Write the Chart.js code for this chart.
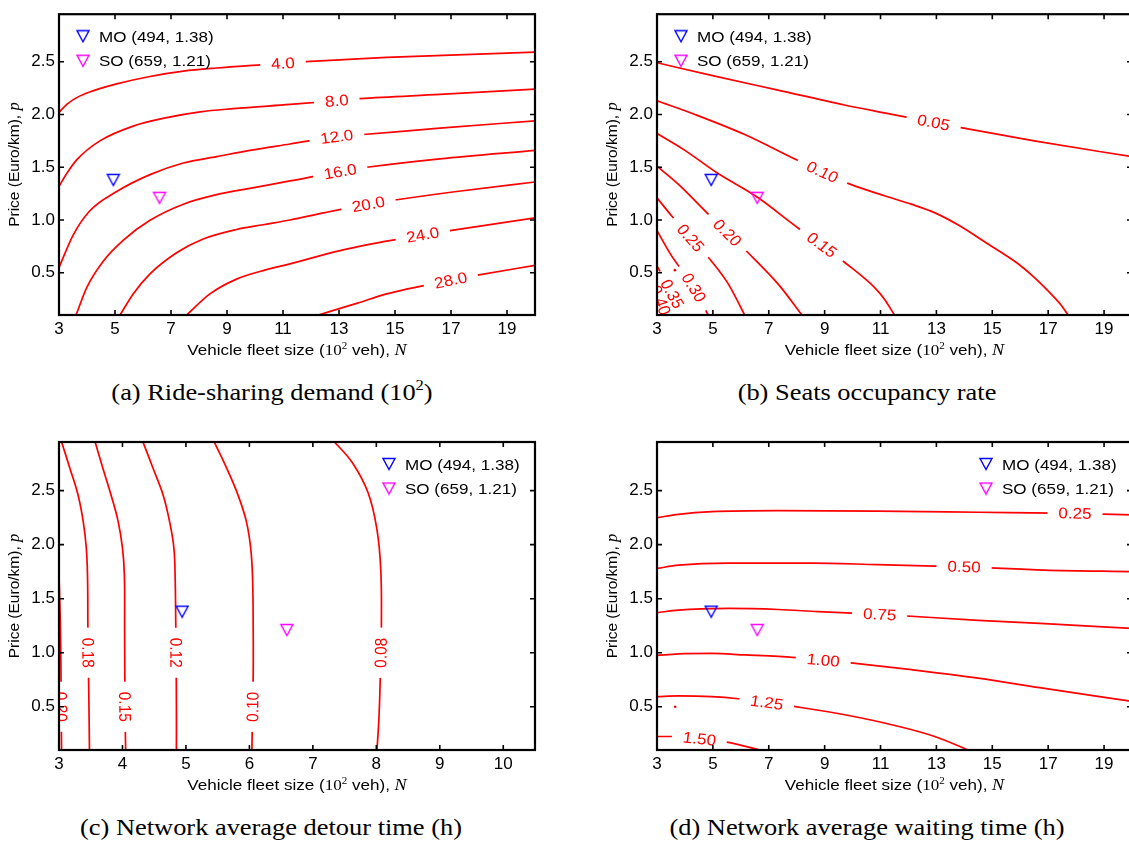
<!DOCTYPE html>
<html>
<head>
<meta charset="utf-8">
<script src="https://cdn.jsdelivr.net/npm/chart.js@4.4.1/dist/chart.umd.min.js"></script>
<style>
  html, body { margin: 0; padding: 0; background: #fff; overflow: hidden; }
  body { width: 1129px; height: 845px; position: relative; }
  canvas { position: absolute; }
  .cap {
    position: absolute; white-space: nowrap; color: #000;
    font-family: "Liberation Serif", "Times New Roman", serif; font-size: 24px;
    transform: translate(-50%, -50%) scaleX(1.1);
  }
  .cap sup { font-size: 15px; vertical-align: 0; position: relative; top: -10px; }
</style>
</head>
<body>
<canvas id="chartDemand" width="560" height="372" style="left:0;top:0"></canvas>
<canvas id="chartOccupancy" width="560" height="372" style="left:580px;top:0"></canvas>
<canvas id="chartDetour" width="560" height="385" style="left:0;top:420px"></canvas>
<canvas id="chartWaiting" width="560" height="385" style="left:580px;top:420px"></canvas>
<div class="cap" style="left:272px;top:392px">(a) Ride-sharing demand (10<sup>2</sup>)</div>
<div class="cap" style="left:867px;top:392px">(b) Seats occupancy rate</div>
<div class="cap" style="left:271px;top:827px">(c) Network average detour time (h)</div>
<div class="cap" style="left:867px;top:827px">(d) Network average waiting time (h)</div>
<script>
// tick values
const xTicksWide = [3, 5, 7, 9, 11, 13, 15, 17, 19];
const xTicksDetour = [3, 4, 5, 6, 7, 8, 9, 10];
const yTicks = [0.5, 1.0, 1.5, 2.0, 2.5];

// optimum points (N in 10^2 veh, price)
const moPoint = [4.94, 1.38];
const soPoint = [6.59, 1.21];
const legendLabels = ["MO (494, 1.38)", "SO (659, 1.21)"];

// (a) ride-sharing demand contours, labelAt = index of the label point
const demandLevels = ["4.0", "8.0", "12.0", "16.0", "20.0", "24.0", "28.0"];
const demandLines = [
  [[3.0, 2.02], [3.3, 2.1], [3.6, 2.155], [3.87, 2.19], [4.4, 2.24], [5.06, 2.29], [6.25, 2.36], [7.44, 2.41], [8.63, 2.44], [10.18, 2.47], [11.0, 2.485], [11.82, 2.5], [14.7, 2.54], [20.0, 2.59]],
  [[3.0, 1.32], [3.3, 1.45], [3.63, 1.57], [4.46, 1.75], [5.65, 1.89], [6.85, 1.97], [8.04, 2.025], [9.23, 2.055], [11.25, 2.095], [12.92, 2.13], [13.75, 2.15], [16.6, 2.19], [20.0, 2.24]],
  [[3.0, 0.55], [3.51, 0.86], [4.11, 1.09], [5.06, 1.27], [6.25, 1.43], [7.44, 1.54], [8.63, 1.6], [9.82, 1.66], [11.25, 1.72], [12.92, 1.79], [13.87, 1.81], [16.6, 1.87], [20.0, 1.94]],
  [[3.61, 0.1], [3.99, 0.36], [4.58, 0.61], [5.3, 0.81], [6.25, 0.997], [7.44, 1.15], [8.63, 1.24], [9.82, 1.3], [11.25, 1.37], [13.04, 1.46], [14.0, 1.5], [16.6, 1.58], [20.0, 1.66]],
  [[5.18, 0.1], [5.65, 0.3], [6.25, 0.49], [7.2, 0.69], [8.15, 0.82], [9.34, 0.91], [10.29, 0.955], [11.25, 1.0], [12.5, 1.07], [14.05, 1.15], [14.76, 1.18], [17.2, 1.27], [20.0, 1.36]],
  [[7.56, 0.1], [8.39, 0.3], [9.34, 0.44], [10.41, 0.53], [11.25, 0.585], [13.04, 0.71], [14.7, 0.8], [15.99, 0.86], [16.96, 0.9], [20.0, 1.02]],
  [[12.26, 0.1], [13.63, 0.21], [14.7, 0.3], [16.99, 0.43], [18.0, 0.48], [20.0, 0.57]]
];
const demandLabelAt = [10, 9, 9, 9, 9, 7, 3];

// (b) seats occupancy rate contours
const occupancyLevels = ["0.05", "0.10", "0.15", "0.20", "0.25", "0.30", "0.35", "0.40"];
const occupancyLines = [
  [[3.0, 2.49], [4.95, 2.37], [7.33, 2.23], [9.71, 2.09], [11.14, 2.015], [11.92, 1.975], [12.9, 1.925], [13.88, 1.875], [16.5, 1.75], [20.0, 1.6]],
  [[3.0, 2.13], [4.36, 2.0], [6.14, 1.81], [7.99, 1.57], [8.92, 1.455], [9.86, 1.345], [11.14, 1.23], [12.1, 1.15], [12.93, 1.07], [13.8, 0.95], [14.71, 0.796], [15.9, 0.59], [16.5, 0.457], [17.1, 0.3], [17.46, 0.195], [17.71, 0.1]],
  [[3.0, 1.82], [4.0, 1.66], [5.13, 1.45], [6.57, 1.22], [8.07, 0.92], [8.9, 0.765], [9.71, 0.6], [10.79, 0.36], [11.14, 0.25], [11.5, 0.1]],
  [[3.0, 1.51], [3.76, 1.34], [4.78, 1.07], [5.52, 0.88], [6.26, 0.69], [7.33, 0.395], [8.19, 0.1]],
  [[3.0, 1.21], [3.52, 1.04], [4.2, 0.83], [4.95, 0.61], [5.55, 0.395], [6.14, 0.1]],
  [[3.0, 0.9], [3.5, 0.67], [4.32, 0.36], [4.83, 0.1]],
  [[3.0, 0.565], [3.55, 0.3], [3.96, 0.1]],
  [[2.92, 0.38], [3.12, 0.24], [3.35, 0.09]]
];
const occupancyLabelAt = [6, 4, 5, 3, 2, 2, 1, 1];
const occupancySpeck = [[3.64, 0.525]];

// (c) network average detour time contours
const detourLevels = ["0.20", "0.18", "0.15", "0.12", "0.10", "0.08"];
const detourLines = [
  [[3.0, 1.72], [3.02, 1.3], [3.03, 0.9], [3.035, 0.5], [3.04, 0.1]],
  [[3.03, 2.97], [3.17, 2.71], [3.3, 2.46], [3.38, 2.22], [3.43, 1.97], [3.45, 1.69], [3.455, 1.26], [3.46, 1.0], [3.47, 0.6], [3.48, 0.1]],
  [[3.56, 2.97], [3.69, 2.71], [3.82, 2.46], [3.93, 2.22], [4.0, 1.97], [4.03, 1.72], [4.034, 1.2], [4.04, 0.5], [4.05, 0.1]],
  [[4.31, 2.97], [4.48, 2.71], [4.64, 2.46], [4.74, 2.22], [4.81, 1.97], [4.83, 1.69], [4.84, 1.26], [4.845, 1.0], [4.85, 0.5], [4.85, 0.1]],
  [[5.43, 2.97], [5.64, 2.71], [5.82, 2.46], [5.95, 2.22], [6.02, 1.97], [6.05, 1.69], [6.06, 1.2], [6.06, 0.8], [6.05, 0.5], [6.04, 0.1]],
  [[7.31, 2.97], [7.62, 2.76], [7.87, 2.48], [8.01, 2.14], [8.07, 1.77], [8.08, 1.27], [8.07, 1.0], [8.06, 0.72], [8.04, 0.38], [8.01, 0.1]]
];
const detourLabelAt = [3, 7, 7, 7, 8, 6];

// (d) network average waiting time contours
const waitingLevels = ["0.25", "0.50", "0.75", "1.00", "1.25", "1.50"];
const waitingLines = [
  [[3.0, 2.25], [3.77, 2.28], [4.96, 2.305], [7.34, 2.315], [10.9, 2.31], [14.49, 2.3], [17.96, 2.29], [20.0, 2.275]],
  [[3.0, 1.78], [3.77, 1.81], [5.56, 1.83], [8.53, 1.83], [10.9, 1.815], [13.99, 1.795], [16.87, 1.765], [20.0, 1.75]],
  [[3.0, 1.37], [3.77, 1.395], [5.56, 1.41], [7.34, 1.4], [8.77, 1.38], [10.97, 1.355], [14.49, 1.3], [16.87, 1.27], [20.0, 1.225]],
  [[3.0, 0.975], [3.77, 0.99], [4.96, 0.994], [6.15, 0.98], [7.34, 0.966], [8.95, 0.932], [9.94, 0.907], [12.11, 0.843], [14.49, 0.765], [16.87, 0.67], [20.0, 0.55]],
  [[3.0, 0.593], [3.77, 0.6], [4.96, 0.593], [5.91, 0.574], [6.93, 0.54], [7.91, 0.503], [9.72, 0.426], [11.51, 0.327], [12.94, 0.225], [14.13, 0.1], [14.3, 0.08]],
  [[3.0, 0.225], [3.54, 0.225], [4.52, 0.205], [5.5, 0.173], [6.69, 0.1], [6.85, 0.09]]
];
const waitingLabelAt = [6, 5, 5, 5, 4, 2];
const waitingSpeck = [[3.65, 0.5]];

const RED = "#ff0000";
const SANS = "'Liberation Sans', Arial, Helvetica, sans-serif";
const SERIF = "'Liberation Serif', 'Times New Roman', serif";
const STRETCH = 1.1; // the figure's text runs a bit wide

function triangleMarker(color) {
  const c = document.createElement("canvas");
  c.width = 16;
  c.height = 14;
  const g = c.getContext("2d");
  g.strokeStyle = color;
  g.lineWidth = 1.4;
  g.beginPath();
  g.moveTo(2, 1.5);
  g.lineTo(14, 1.5);
  g.lineTo(8, 12.5);
  g.closePath();
  g.stroke();
  return c;
}
const markerMO = triangleMarker("#0000ff");
const markerSO = triangleMarker("#ff00ff");

function drawRich(ctx, parts, cx, cy) {
  let total = 0;
  parts.forEach(p => { ctx.font = p.f; total += ctx.measureText(p.t).width; });
  ctx.save();
  ctx.translate(cx, cy);
  if (parts.stretch) ctx.scale(STRETCH, 1);
  ctx.textAlign = "left";
  ctx.textBaseline = "alphabetic";
  ctx.fillStyle = "#000";
  let x = -total / 2;
  parts.forEach(p => {
    ctx.font = p.f;
    ctx.fillText(p.t, x, 5 + (p.dy || 0));
    x += ctx.measureText(p.t).width;
  });
  ctx.restore();
}

const xTitle = [
  { t: "Vehicle fleet size (", f: "15.5px " + SANS },
  { t: "10", f: "15.5px " + SERIF },
  { t: "2", f: "10px " + SERIF, dy: -6 },
  { t: " veh), ", f: "15.5px " + SANS },
  { t: "N", f: "italic 16.5px " + SERIF }
];
xTitle.stretch = true;
const yTitle = [
  { t: "Price (Euro/km), ", f: "15.5px " + SANS },
  { t: "p", f: "italic 16.5px " + SERIF }
];

function overlayPlugin(panel) {
  return {
    id: "overlay",
    afterDatasetsDraw(chart) {
      const { ctx, chartArea: ca } = chart;
      const xs = chart.scales.x, ys = chart.scales.y;
      ctx.save();
      ctx.beginPath();
      ctx.rect(ca.left, ca.top, ca.right - ca.left, ca.bottom - ca.top);
      ctx.clip();
      ctx.font = "15.5px " + SANS;
      panel.lines.forEach((pts, i) => {
        const k = panel.labelAt[i];
        const a = pts[k - 1], p = pts[k], b = pts[k + 1];
        const dx = (xs.getPixelForValue(b[0]) - xs.getPixelForValue(a[0])) / STRETCH;
        const dy = ys.getPixelForValue(b[1]) - ys.getPixelForValue(a[1]);
        let ang = Math.atan2(dy, dx);
        if (ang > Math.PI / 2) ang -= Math.PI;
        if (ang <= -Math.PI / 2) ang += Math.PI;
        const txt = panel.levels[i];
        const w = ctx.measureText(txt).width;
        ctx.save();
        ctx.translate(xs.getPixelForValue(p[0]), ys.getPixelForValue(p[1]));
        ctx.scale(STRETCH, 1);
        ctx.rotate(ang);
        ctx.fillStyle = "#fff";
        ctx.fillRect(-w / 2 - 10, -4, w + 20, 8);
        ctx.fillStyle = RED;
        ctx.textAlign = "center";
        ctx.textBaseline = "middle";
        ctx.fillText(txt, 0, 1);
        ctx.restore();
      });
      ctx.restore();
    },
    afterDraw(chart) {
      const { ctx, chartArea: ca } = chart;
      const xs = chart.scales.x, ys = chart.scales.y;
      ctx.save();
      // inward ticks on all four sides
      ctx.strokeStyle = "#000";
      ctx.lineWidth = 1.6;
      ctx.beginPath();
      panel.xTicks.forEach(v => {
        const px = xs.getPixelForValue(v);
        ctx.moveTo(px, ca.bottom);
        ctx.lineTo(px, ca.bottom - 5);
        ctx.moveTo(px, ca.top);
        ctx.lineTo(px, ca.top + 5);
      });
      yTicks.forEach(v => {
        const py = ys.getPixelForValue(v);
        ctx.moveTo(ca.left, py);
        ctx.lineTo(ca.left + 5, py);
        ctx.moveTo(ca.right, py);
        ctx.lineTo(ca.right - 5, py);
      });
      ctx.stroke();
      ctx.lineWidth = 2.2;
      ctx.strokeRect(ca.left, ca.top, ca.right - ca.left, ca.bottom - ca.top);

      // legend
      const mx = panel.legendRight ? ca.right - 146 : ca.left + 24;
      [markerMO, markerSO].forEach((m, i) => {
        const my = ca.top + 22 + i * 24.5;
        ctx.drawImage(m, mx - 8, my - 7);
        ctx.save();
        ctx.translate(mx + 16, my + 5.6);
        ctx.scale(STRETCH, 1);
        ctx.font = "15.5px " + SANS;
        ctx.fillStyle = "#000";
        ctx.textAlign = "left";
        ctx.fillText(legendLabels[i], 0, 0);
        ctx.restore();
      });

      // axis titles
      drawRich(ctx, xTitle, (ca.left + ca.right) / 2, ca.bottom + 35);
      ctx.save();
      ctx.translate(ca.left - 45, (ca.top + ca.bottom) / 2);
      ctx.rotate(-Math.PI / 2);
      drawRich(ctx, yTitle, 0, 0);
      ctx.restore();
      ctx.restore();
    }
  };
}

function makeChart(id, area, panel) {
  const canvas = document.getElementById(id);
  const W = canvas.width, H = canvas.height;
  const datasets = [
    { data: [{ x: moPoint[0], y: moPoint[1] }], pointStyle: markerMO, pointRadius: 7 },
    { data: [{ x: soPoint[0], y: soPoint[1] }], pointStyle: markerSO, pointRadius: 7 }
  ];
  panel.lines.forEach(pts => {
    datasets.push({
      data: pts.map(p => ({ x: p[0], y: p[1] })),
      showLine: true,
      borderColor: RED,
      borderWidth: 1.7,
      pointRadius: 0,
      tension: 0.4,
      cubicInterpolationMode: panel.monotone ? "monotone" : "default",
      fill: false
    });
  });
  (panel.speck || []).forEach(p => {
    datasets.push({
      data: [{ x: p[0], y: p[1] }],
      pointRadius: 1.3,
      backgroundColor: RED,
      borderWidth: 0
    });
  });
  const tickFont = { family: SANS, size: 17 };
  return new Chart(canvas, {
    type: "scatter",
    data: { datasets },
    options: {
      responsive: false,
      animation: false,
      events: [],
      layout: { padding: { left: 0, top: area.top, right: W - area.right, bottom: 0 } },
      scales: {
        x: {
          type: "linear",
          min: panel.xMin,
          max: panel.xMax,
          afterFit: s => { s.height = H - area.bottom; },
          afterBuildTicks: s => { s.ticks = panel.xTicks.map(v => ({ value: v })); },
          grid: { display: false, drawTicks: false },
          border: { display: false },
          ticks: { font: tickFont, color: "#000", padding: 4, maxRotation: 0, autoSkip: false, callback: v => String(v) }
        },
        y: {
          type: "linear",
          min: 0.1,
          max: 2.95,
          afterFit: s => { s.width = area.left; },
          afterBuildTicks: s => { s.ticks = yTicks.map(v => ({ value: v })); },
          grid: { display: false, drawTicks: false },
          border: { display: false },
          ticks: { font: tickFont, color: "#000", padding: 4, autoSkip: false, callback: v => Number(v).toFixed(1) }
        }
      },
      plugins: { legend: { display: false }, tooltip: { enabled: false } }
    },
    plugins: [overlayPlugin(panel)]
  });
}

makeChart("chartDemand", { left: 59, top: 7, right: 535, bottom: 315 }, {
  xMin: 3, xMax: 20, xTicks: xTicksWide, monotone: true,
  levels: demandLevels, lines: demandLines, labelAt: demandLabelAt
});
makeChart("chartOccupancy", { left: 77, top: 7, right: 552, bottom: 315 }, {
  xMin: 3, xMax: 20, xTicks: xTicksWide, monotone: true,
  levels: occupancyLevels, lines: occupancyLines, labelAt: occupancyLabelAt, speck: occupancySpeck
});
makeChart("chartDetour", { left: 59, top: 22, right: 535, bottom: 330 }, {
  xMin: 3, xMax: 10.5, xTicks: xTicksDetour, monotone: false,
  levels: detourLevels, lines: detourLines, labelAt: detourLabelAt, legendRight: true
});
makeChart("chartWaiting", { left: 77, top: 22, right: 552, bottom: 330 }, {
  xMin: 3, xMax: 20, xTicks: xTicksWide, monotone: true,
  levels: waitingLevels, lines: waitingLines, labelAt: waitingLabelAt, speck: waitingSpeck, legendRight: true
});
</script>
</body>
</html>
